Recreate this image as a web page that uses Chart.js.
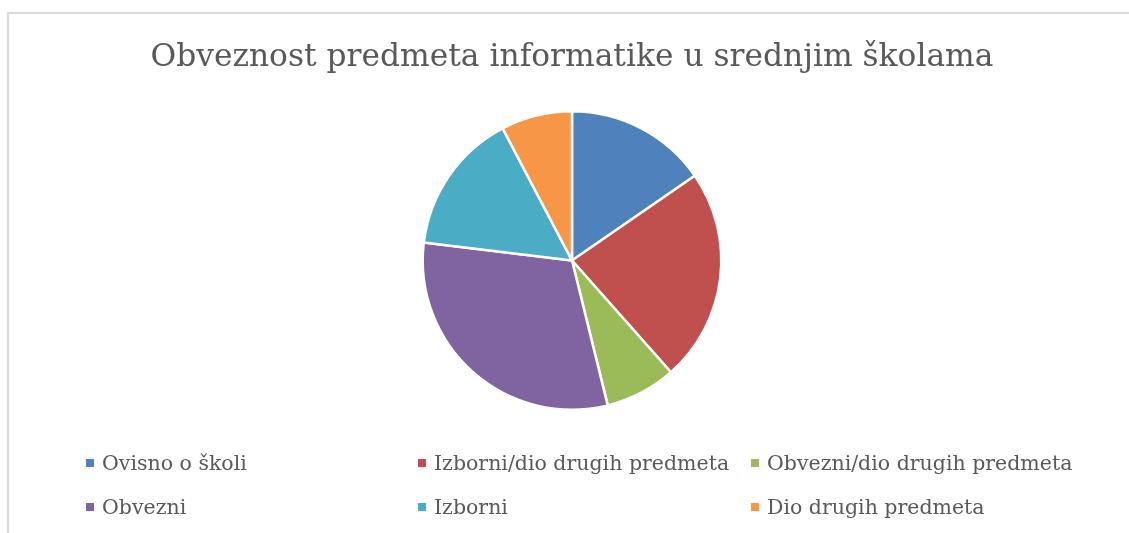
<!DOCTYPE html>
<html>
<head>
<meta charset="utf-8">
<script src="https://cdn.jsdelivr.net/npm/chart.js@4/dist/chart.umd.min.js"></script>
<style>
    html, body { margin: 0; padding: 0; background: #fff; }
    #wrap { position: relative; width: 1129px; height: 533px; overflow: hidden; }
    #frame { position: absolute; left: 7px; top: 12px; width: 1200px; height: 600px;
             border-left: 2px solid #d9d9d9; border-top: 2px solid #d9d9d9; }
    #chartPie { position: absolute; left: 0; top: 0; }
    #legend { position: absolute; left: 86px; top: 447px;
              display: grid; grid-template-columns: 332px 333px 320px; grid-auto-rows: 44px;
              font-family: "DejaVu Serif", serif; font-size: 20.5px; color: #595959; }
    #legend .item { display: flex; align-items: center; height: 32px; white-space: nowrap; }
    #legend .box { width: 8px; height: 8px; margin-right: 8px; flex: none; }
</style>
</head>
<body>
<div id="wrap">
    <div id="frame"></div>
    <canvas id="chartPie" width="1129" height="533"></canvas>
    <div id="legend"></div>
</div>
<script>
const tituloGrafico = 'Obveznost predmeta informatike u srednjim školama';
const categorias = ['Ovisno o školi', 'Izborni/dio drugih predmeta', 'Obvezni/dio drugih predmeta',
                    'Obvezni', 'Izborni', 'Dio drugih predmeta'];
const valores = [2, 3, 1, 4, 2, 1];
const colores = ['#4F81BD', '#C0504D', '#9BBB59', '#8064A2', '#4BACC6', '#F79646'];

document.addEventListener("DOMContentLoaded", function () {

    // ================= PIE =================
    new Chart(document.getElementById('chartPie'), {
        type: 'pie',
        data: {
            labels: categorias,
            datasets: [{
                data: valores,
                backgroundColor: colores,
                borderColor: '#ffffff',
                borderWidth: 2.5
            }]
        },
        options: {
            responsive: false,
            animation: false,
            layout: { padding: { left: 15, right: 0, top: 0, bottom: 122 } },
            plugins: {
                legend: { display: false },
                tooltip: { enabled: false },
                title: {
                    display: true,
                    text: tituloGrafico,
                    color: '#595959',
                    font: { family: 'DejaVu Serif', size: 31.3, weight: 'normal', lineHeight: 1.2 },
                    padding: { top: 39, bottom: 33.4 }
                }
            }
        }
    });

    // ================= LEYENDA =================
    const legend = document.getElementById('legend');
    categorias.forEach(function (cat, i) {
        const item = document.createElement('div');
        item.className = 'item';
        const box = document.createElement('span');
        box.className = 'box';
        box.style.background = colores[i];
        const txt = document.createElement('span');
        txt.textContent = cat;
        item.appendChild(box);
        item.appendChild(txt);
        legend.appendChild(item);
    });
});
</script>
</body>
</html>
